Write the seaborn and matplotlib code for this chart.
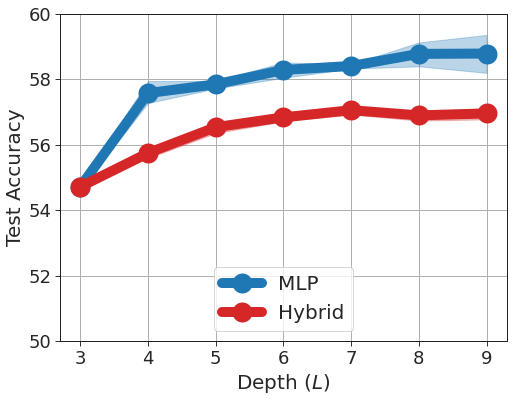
import seaborn as sns
import matplotlib.pyplot as plt
import pandas as pd
import numpy as np

sns.set_style("whitegrid")

depth = [3, 4, 5, 6, 7, 8, 9]
mlp_mean = [54.72, 57.58, 57.85, 58.29, 58.41, 58.78, 58.79]
mlp_low = [54.65, 57.28, 57.72, 58.05, 58.33, 58.40, 58.20]
mlp_high = [54.80, 57.95, 57.95, 58.52, 58.46, 59.13, 59.36]
hyb_mean = [54.72, 55.75, 56.54, 56.84, 57.06, 56.90, 56.96]
hyb_low = [54.60, 55.60, 56.36, 56.72, 56.93, 56.74, 56.78]
hyb_high = [54.84, 55.88, 56.68, 56.96, 57.18, 57.02, 57.12]

df = pd.DataFrame({
    "depth": depth * 2,
    "acc": mlp_mean + hyb_mean,
    "model": ["MLP"] * len(depth) + ["Hybrid"] * len(depth),
})

plt.rcParams['font.family'] = ['DejaVu Sans']
fig, ax = plt.subplots(figsize=(513 / 72, 399 / 72), dpi=72)

colors = {"MLP": "#1f77b4", "Hybrid": "#d62728"}
sns.lineplot(data=df, x="depth", y="acc", hue="model", palette=colors,
             marker="o", markersize=20, linewidth=10, markeredgewidth=0,
             ax=ax)
ax.fill_between(depth, mlp_low, mlp_high, color=colors["MLP"], alpha=0.3)
ax.fill_between(depth, hyb_low, hyb_high, color=colors["Hybrid"], alpha=0.3)

ax.set_ylim(50, 60)
ax.set_xticks(depth)
ax.set_xlabel("Depth ($L$)", fontsize=20)
ax.set_ylabel("Test Accuracy", fontsize=20)
ax.tick_params(labelsize=18, left=True, bottom=True, length=5, color="black")
ax.grid(color="#b0b0b0", linewidth=1)
for s in ax.spines.values():
    s.set_color("#222222")
    s.set_linewidth(1)

leg = ax.legend(loc="lower center", fontsize=20, markerscale=1)
leg.get_frame().set_edgecolor("#cccccc")

fig.subplots_adjust(left=0.117, right=0.988, top=0.965, bottom=0.145)
fig.savefig("out.png", dpi=72)
